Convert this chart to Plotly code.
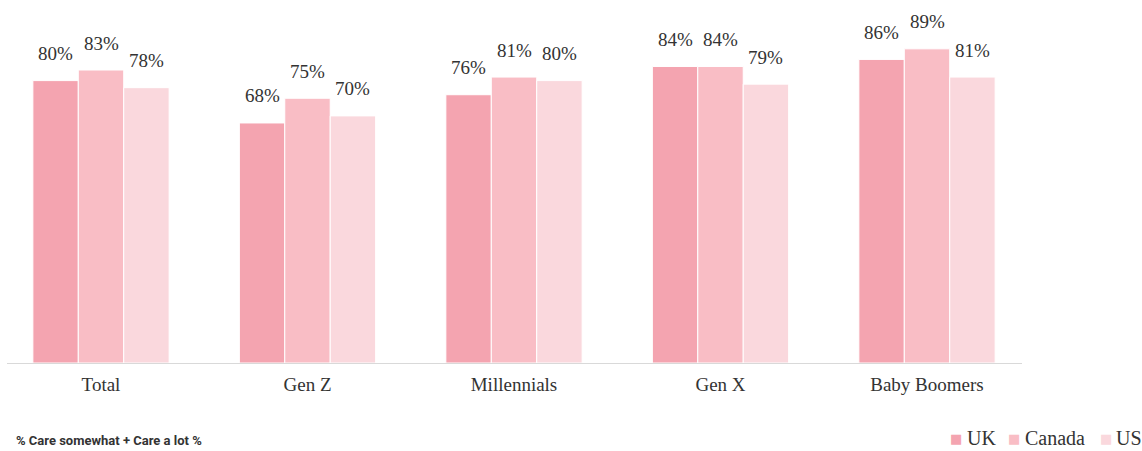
import plotly.graph_objects as go

categories = ["Total", "Gen Z", "Millennials", "Gen X", "Baby Boomers"]
series_names = ["UK", "Canada", "US"]
uk = [80, 68, 76, 84, 86]
canada = [83, 75, 81, 84, 89]
us = [78, 70, 80, 79, 81]
colors = ["#F4A4B0", "#F9BDC5", "#FAD8DD"]
footnote = "% Care somewhat + Care a lot %"

W, H = 1142, 451
ML, MR, MT, MB = 7, 120, 20, 88
plot_w = W - ML - MR
plot_h = H - MT - MB
px_per_cat = 206.5
first_center = 101 - ML
x0 = -first_center / px_per_cat
x1 = x0 + plot_w / px_per_cat
px_per_pct = 3.53
y_max = plot_h / px_per_pct


def px_x(px):
    return (px - ML) / plot_w


def px_y(py):
    return (MT + plot_h - py) / plot_h


serif = "Liberation Serif, Times New Roman, serif"
fig = go.Figure()
series = [uk, canada, us]
for name, vals, col in zip(series_names, series, colors):
    fig.add_trace(go.Bar(
        x=categories, y=vals, name=name, showlegend=False,
        marker=dict(color=col, line=dict(color="white", width=1)),
        hoverinfo="x+y+name",
    ))

bargap = 0.34
bar_px = px_per_cat * (1 - bargap) / 3
annotations = []
for i, vals in enumerate(series):
    for c, v in zip(categories, vals):
        annotations.append(dict(
            x=c, y=v, xref="x", yref="y", text=f"{v}%", showarrow=False,
            xshift=(i - 1) * bar_px, yshift=27, yanchor="middle",
            font=dict(family=serif, size=19, color="#333333"),
        ))
annotations.append(dict(
    x=px_x(14), y=px_y(440), xref="paper", yref="paper",
    text=f"<b>{footnote}</b>", showarrow=False, xanchor="left", yanchor="middle",
    font=dict(family="Roboto, Arial, sans-serif", size=13, color="#333333"),
))

# legend (drawn as text so its spacing matches the original)
legend_marker_px = [956, 1014, 1106]
legend_text_px = [965, 1023, 1114]
legend_y = 437.5
for name, col, mx, tx in zip(series_names, colors, legend_marker_px, legend_text_px):
    annotations.append(dict(
        x=px_x(mx), y=px_y(legend_y + 1), xref="paper", yref="paper", text="■",
        showarrow=False, xanchor="center", yanchor="middle",
        font=dict(family="DejaVu Sans", size=13, color=col),
    ))
    annotations.append(dict(
        x=px_x(tx), y=px_y(legend_y), xref="paper", yref="paper", text=name,
        showarrow=False, xanchor="left", yanchor="middle",
        font=dict(family=serif, size=20, color="#333333"),
    ))

fig.update_layout(
    width=W, height=H,
    margin=dict(l=ML, r=MR, t=MT, b=MB, pad=0, autoexpand=False),
    paper_bgcolor="white", plot_bgcolor="white",
    barmode="group", bargap=bargap, bargroupgap=0,
    xaxis=dict(range=[x0, x1], showline=True, linecolor="#D9D9D9", linewidth=1,
               showgrid=False, ticks="", ticklabelstandoff=4,
               tickfont=dict(family=serif, size=19, color="#333333")),
    yaxis=dict(range=[0, y_max], visible=False, showgrid=False),
    showlegend=False,
    annotations=annotations,
)

fig.write_html("out.html", config={"displayModeBar": False},
               post_script="document.body.style.margin='0';")
